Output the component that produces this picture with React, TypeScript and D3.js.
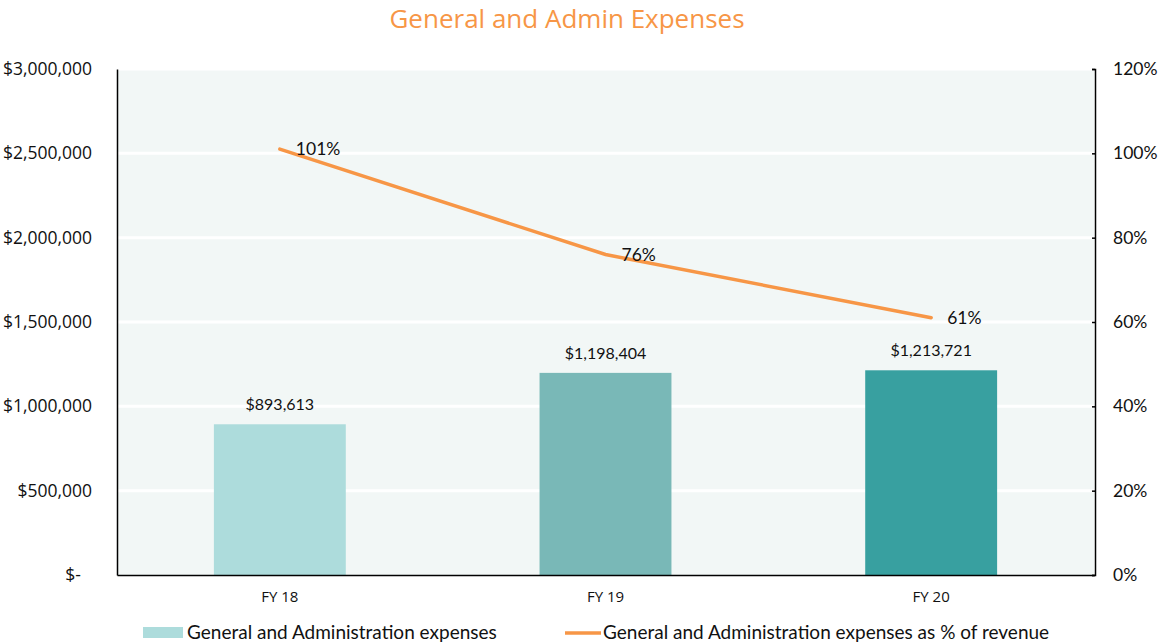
import React, { useEffect, useRef } from 'react'
import * as d3 from 'd3'

const years = ['FY 18', 'FY 19', 'FY 20']
const expenses = [893613, 1198404, 1213721]
const pctOfRevenue = [101, 76, 61]
const leftTicks = [0, 500000, 1000000, 1500000, 2000000, 2500000, 3000000]
const rightTicks = [0, 20, 40, 60, 80, 100, 120]
const barColors = ['#addcdc', '#79b8b7', '#38a0a0']

const App = () => {
  const ref = useRef<SVGSVGElement>(null)

  useEffect(() => {
    const svg = d3.select(ref.current)
    svg.selectAll('*').remove()
    const width = 1160
    const height = 644
    const left = 117
    const right = 1094
    const top = 69
    const bottom = 575
    const orange = '#f79646'

    const x = d3.scaleBand().domain(years).range([left, right]).paddingInner(0.595).paddingOuter(0.2975)
    const y = d3.scaleLinear().domain([0, 3000000]).range([bottom, top])
    const y2 = d3.scaleLinear().domain([0, 120]).range([bottom, top])

    svg.attr('width', width).attr('height', height)

    svg
      .append('text')
      .attr('x', 567)
      .attr('y', 28)
      .attr('text-anchor', 'middle')
      .style('font-family', 'Open Sans, sans-serif')
      .style('font-size', '26px')
      .attr('fill', orange)
      .text('General and Admin Expenses')

    // plot background
    svg.append('rect').attr('x', left).attr('y', top).attr('width', right - left).attr('height', bottom - top).attr('fill', '#f2f7f6')

    // gridlines
    svg
      .selectAll('.grid')
      .data(leftTicks.slice(1))
      .enter()
      .append('line')
      .attr('x1', left)
      .attr('x2', right)
      .attr('y1', d => y(d))
      .attr('y2', d => y(d))
      .attr('stroke', '#fff')
      .attr('stroke-width', 3)

    // bars
    svg
      .selectAll('.bar')
      .data(expenses)
      .enter()
      .append('rect')
      .attr('x', (d, i) => x(years[i])!)
      .attr('y', d => y(d))
      .attr('width', x.bandwidth())
      .attr('height', d => bottom - y(d))
      .attr('fill', (d, i) => barColors[i])

    const labelFont = 'Lato, sans-serif'

    svg
      .selectAll('.barlabel')
      .data(expenses)
      .enter()
      .append('text')
      .attr('x', (d, i) => x(years[i])! + x.bandwidth() / 2)
      .attr('y', d => y(d) - 14)
      .attr('text-anchor', 'middle')
      .style('font-family', labelFont)
      .style('font-size', '16px')
      .attr('fill', '#111')
      .text(d => '$' + d3.format(',')(d))

    // line
    const line = d3
      .line<number>()
      .x((d, i) => x(years[i])! + x.bandwidth() / 2)
      .y(d => y2(d))
    svg
      .append('path')
      .datum(pctOfRevenue)
      .attr('d', line)
      .attr('fill', 'none')
      .attr('stroke', orange)
      .attr('stroke-width', 3.5)
      .attr('stroke-linecap', 'round')

    svg
      .selectAll('.linelabel')
      .data(pctOfRevenue)
      .enter()
      .append('text')
      .attr('x', (d, i) => x(years[i])! + x.bandwidth() / 2 + 16)
      .attr('y', d => y2(d) + 6)
      .style('font-family', labelFont)
      .style('font-size', '17.5px')
      .attr('fill', '#111')
      .text(d => d + '%')

    // left axis
    const yAxis = d3
      .axisLeft(y)
      .tickValues(leftTicks)
      .tickSize(0)
      .tickPadding(25)
      .tickFormat(d => (+d === 0 ? '$-' : '$' + d3.format(',')(+d)))
    const gl = svg.append('g').attr('transform', `translate(${left},0)`).call(yAxis)
    gl.select('.domain').attr('stroke', '#000').attr('stroke-width', 1.5)
    gl.selectAll('text').style('font-family', 'Open Sans, sans-serif').style('font-size', '17.5px').attr('fill', '#111')
    gl.selectAll('.tick text').filter(d => +d === 0).attr('dx', -11)

    // right axis
    const yAxis2 = d3
      .axisRight(y2)
      .tickValues(rightTicks)
      .tickSizeInner(-3)
      .tickSizeOuter(-3)
      .tickPadding(18)
      .tickFormat(d => d + '%')
    const gr = svg.append('g').attr('transform', `translate(${right + 1},0)`).call(yAxis2)
    gr.select('.domain').attr('stroke', '#000').attr('stroke-width', 1.5)
    gr.selectAll('line').attr('stroke', '#000').attr('stroke-width', 1.5)
    gr.selectAll('text').style('font-family', labelFont).style('font-size', '17.5px').attr('fill', '#111')

    // bottom axis
    const xAxis = d3.axisBottom(x).tickSize(0).tickPadding(16)
    const gb = svg.append('g').attr('transform', `translate(0,${bottom})`).call(xAxis)
    gb.select('.domain').attr('stroke', '#000').attr('stroke-width', 1.5)
    gb.selectAll('text').style('font-family', 'Open Sans, sans-serif').style('font-size', '15px').attr('fill', '#111')

    // legend
    const legend = svg.append('g')
    legend.append('rect').attr('x', 143).attr('y', 627).attr('width', 40).attr('height', 11).attr('fill', barColors[0])
    legend
      .append('text')
      .attr('x', 187)
      .attr('y', 639)
      .style('font-family', labelFont)
      .style('font-size', '19px')
      .attr('fill', '#111')
      .text('General and Administration expenses')
    legend
      .append('line')
      .attr('x1', 565)
      .attr('x2', 601)
      .attr('y1', 633)
      .attr('y2', 633)
      .attr('stroke', orange)
      .attr('stroke-width', 3.5)
    legend
      .append('text')
      .attr('x', 603)
      .attr('y', 639)
      .style('font-family', labelFont)
      .style('font-size', '19px')
      .attr('fill', '#111')
      .text('General and Administration expenses as % of revenue')
  }, [])

  return <svg ref={ref} style={{ position: 'absolute', left: 0, top: 0, display: 'block' }}></svg>
}

export default App
